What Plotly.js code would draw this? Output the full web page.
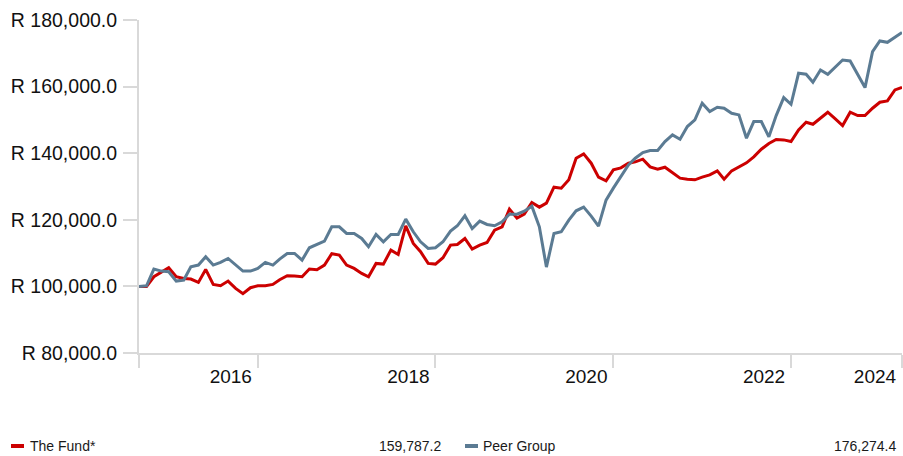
<!DOCTYPE html>
<html>
<head>
<meta charset="utf-8">
<script src="https://cdn.plot.ly/plotly-3.0.1.min.js"></script>
<style>
  html, body { margin: 0; padding: 0; background: #ffffff; }
  #chart { width: 903px; height: 456px; }
</style>
</head>
<body>
<div id="chart"></div>
<script>
// ---- Data (growth of R100,000, monthly) ----
const startMonth = "2015-08";
const fundName = "The Fund*";
const peerName = "Peer Group";

const fundValues = [
  100000, 100000, 102900, 104400, 105600, 102900, 102400, 102200, 101200, 105100,
  100600, 100200, 101600, 99400, 97800, 99600, 100200, 100200, 100600, 102000,
  103200, 103100, 102900, 105200, 105000, 106400, 109800, 109400, 106400, 105400,
  103900, 102900, 106900, 106700, 110900, 109600, 118200, 112900, 110400, 106900,
  106700, 108600, 112400, 112600, 114400, 111200, 112400, 113200, 116900, 117900,
  123200, 120500, 121700, 125200, 123800, 125000, 129800, 129500, 132000, 138500,
  139800, 137000, 132800, 131700, 135000, 135600, 137000, 137400, 138200, 135900,
  135200, 135800, 134100, 132500, 132200, 132000, 132800, 133500, 134700, 132200,
  134700, 135800, 137100, 138900, 141200, 142900, 144100, 144000, 143500, 147000,
  149300, 148700, 150500, 152300, 150300, 148300, 152300, 151300, 151300, 153500,
  155300, 155700, 159000, 159787.2
];

const peerValues = [
  100000, 100200, 105200, 104600, 104400, 101600, 101900, 105900, 106400, 108900,
  106400, 107200, 108400, 106400, 104600, 104600, 105400, 107200, 106400, 108200,
  109900, 109900, 107900, 111600, 112600, 113600, 117900, 117900, 115900, 115900,
  114400, 111900, 115600, 113400, 115600, 115600, 120200, 116400, 113400, 111400,
  111600, 113400, 116600, 118200, 121200, 117400, 119600, 118600, 118200, 119400,
  121700, 121700, 122600, 124100, 117900, 105800, 115900, 116400, 119900, 122700,
  123800, 121100, 118100, 125900, 129500, 132900, 136500, 138500, 140200, 140800,
  140800, 143500, 145500, 144200, 148000, 150000, 155000, 152500, 153800, 153500,
  152000, 151500, 144500, 149500, 149500, 144900, 151300, 156700, 154700, 164000,
  163700, 161300, 165000, 163700, 166000, 168000, 167700, 163500, 159700, 170500,
  173700, 173300, 174700, 176274.4
];

// Axis labels
const yTickPrefix = "R ";
const xTickIndex = [0, 16, 40, 64, 88, 103];
const xTickText = ["", "2016", "2018", "2020", "2022", "2024"];

// ---- Build monthly dates ----
function monthSeq(start, n) {
  const [y0, m0] = start.split("-").map(Number);
  const out = [];
  for (let i = 0; i < n; i++) {
    const t = (m0 - 1) + i;
    const y = y0 + Math.floor(t / 12);
    const m = (t % 12) + 1;
    out.push(y + "-" + String(m).padStart(2, "0") + "-01");
  }
  return out;
}
const dates = monthSeq(startMonth, fundValues.length);

const W = 903, H = 456;
const M = { l: 139, r: 1, t: 20, b: 103 };
const PW = W - M.l - M.r, PH = H - M.t - M.b;
const px = x => (x - M.l) / PW;
const py = y => (H - M.b - y) / PH;

const fundColor = "#cc0000";
const peerColor = "#5b7b93";
const axisColor = "#d9d9d9";
const FONT = "Liberation Sans, Arial, Helvetica, sans-serif";

const fmt = v => v.toLocaleString("en-US", { minimumFractionDigits: 1, maximumFractionDigits: 1 });

const traces = [
  { x: dates, y: fundValues, type: "scatter", mode: "lines", name: fundName,
    line: { color: fundColor, width: 3 } },
  { x: dates, y: peerValues, type: "scatter", mode: "lines", name: peerName,
    line: { color: peerColor, width: 3 } }
];

const legendY = 446;
const annotations = [
  { text: fundName, x: px(28), y: py(legendY), xanchor: "left", yanchor: "middle" },
  { text: fmt(fundValues[fundValues.length - 1]), x: px(443), y: py(legendY), xanchor: "right", yanchor: "middle" },
  { text: peerName, x: px(481), y: py(legendY), xanchor: "left", yanchor: "middle" },
  { text: fmt(peerValues[peerValues.length - 1]), x: px(898), y: py(legendY), xanchor: "right", yanchor: "middle" }
].map(a => Object.assign({ xref: "paper", yref: "paper", showarrow: false,
  font: { family: FONT, size: 14, color: "#1a1a1a" } }, a));

const shapes = [
  { x0: px(11), x1: px(24), color: fundColor },
  { x0: px(465), x1: px(478), color: peerColor }
].map(s => ({ type: "rect", xref: "paper", yref: "paper", x0: s.x0, x1: s.x1,
  y0: py(legendY + 2), y1: py(legendY - 2), fillcolor: s.color, line: { width: 0 } }));

const layout = {
  width: W, height: H,
  margin: M,
  paper_bgcolor: "#ffffff", plot_bgcolor: "#ffffff",
  showlegend: false,
  font: { family: FONT, size: 19, color: "#111111" },
  xaxis: {
    type: "date",
    range: [dates[0], dates[dates.length - 1]],
    tickmode: "array",
    tickvals: xTickIndex.map(i => dates[i]),
    ticktext: xTickText,
    ticks: "outside", ticklen: 13, tickwidth: 2, tickcolor: axisColor,
    ticklabelshift: -27,
    ticklabelstandoff: -8,
    showline: true, linecolor: axisColor, linewidth: 2,
    showgrid: false, zeroline: false,
    tickfont: { family: FONT, size: 19, color: "#111111" }
  },
  yaxis: {
    range: [80000, 180000],
    tickmode: "linear", tick0: 80000, dtick: 20000,
    tickprefix: yTickPrefix, tickformat: ",.1f",
    ticks: "outside", ticklen: 14, tickwidth: 2, tickcolor: axisColor,
    ticklabelstandoff: 2,
    showline: true, linecolor: axisColor, linewidth: 2,
    showgrid: false, zeroline: false,
    tickfont: { family: FONT, size: 19.5, color: "#111111" }
  },
  annotations: annotations,
  shapes: shapes
};

Plotly.newPlot("chart", traces, layout, { staticPlot: true, displayModeBar: false });
</script>
</body>
</html>
